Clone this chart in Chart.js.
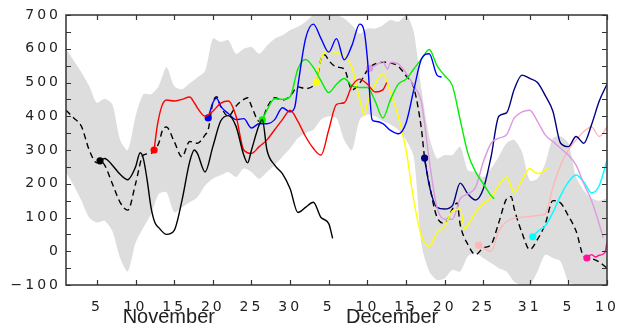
<!DOCTYPE html>
<html>
<head>
<meta charset="utf-8">
<script src="https://cdn.jsdelivr.net/npm/chart.js@4.4.1/dist/chart.umd.min.js"></script>
<style>
  html, body { margin: 0; padding: 0; background: #fff; }
  #wrap { width: 629px; height: 331px; }
</style>
</head>
<body>
<div id="wrap"><canvas id="chart" width="629" height="331"></canvas></div>
<script>
// x = days since 1 November (0 = Nov 1, 70 = Jan 10)
const tickDays = [4, 9, 14, 19, 24, 29, 34, 39, 44, 49, 54, 60, 65, 70];
const tickLabels = ['5', '10', '15', '20', '25', '30', '5', '10', '15', '20', '25', '31', '5', '10'];
const monthNames = ['November', 'December'];
const monthDays = [13.3, 42.2];
const yLabelVals = [-100, 0, 100, 200, 300, 400, 500, 600, 700];
const yMinorVals = [-100, -50, 0, 50, 100, 150, 200, 250, 300, 350, 400, 450, 500, 550, 600, 650, 700];

// grey envelope, one value per day
const bandDays = Array.from({ length: 71 }, (_, i) => i);
const bandHigh = [600, 565, 530, 490, 440, 452, 435, 330, 300, 400,
  465, 465, 490, 545, 490, 480, 498, 515, 535, 630,
  620, 625, 585, 600, 605, 585, 610, 630, 640, 655,
  665, 680, 700, 700, 700, 700, 690, 670, 645, 660,
  660, 670, 685, 680, 700, 650, 480, 340, 275, 285,
  285, 310, 240, 235, 220, 245, 280, 320, 330, 295,
  210, 215, 260, 335, 340, 320, 220, 180, 157, 150, 157];
const bandLow = [235, 195, 150, 100, 85, 90, 60, -20, -60, 25,
  70, 110, 170, 175, 115, 130, 145, 160, 195, 215,
  225, 235, 220, 245, 235, 215, 235, 255, 280, 305,
  335, 350, 360, 390, 400, 395, 330, 300, 390, 405,
  400, 385, 375, 360, 330, 280, 20, -60, -85, -80,
  -55, -60, -15, -5, -20, -35, -50, -60, -90, -100,
  -100, -60, -10, -20, -30, -90, -100, -100, -100, -100, -100];

// dashed black
const meanDays = [0, 1, 2, 3, 4, 4.4, 5, 6, 7, 8, 9, 10, 11, 12, 12.5, 13, 14, 15, 16, 17, 18, 18.4,
  19, 19.5, 20, 21, 22, 23, 23.5, 24, 25, 25.4, 26, 27, 28, 29, 30, 31, 32, 32.4, 33, 33.5, 34, 35, 36, 37, 38, 39, 39.3,
  40, 41, 42, 43, 44, 45, 46, 46.4, 47, 48, 49, 50, 50.6, 51, 52, 53, 54, 55, 56, 57, 57.6, 58, 59,
  60, 61, 62, 63, 64, 65, 66, 67, 68, 69, 70];
const meanVals = [418, 395, 370, 300, 262, 268, 255, 200, 145, 122, 200, 285, 290, 320, 360, 368, 325, 280, 325, 320, 345, 360,
  440, 458, 430, 400, 430, 450, 455, 430, 385, 390, 425, 455, 448, 460, 487, 482, 490, 502, 570, 582, 565, 546, 540, 478, 498, 537, 545,
  555, 560, 558, 548, 520, 485, 360, 276, 200, 101, 83, 125, 143, 80, 20, -10, 10, 20, 85, 155, 162, 125, 55,
  5, 35, 80, 150, 143, 105, 60, -15, -22, -32, -50];

const blackDays = [4.4, 5, 6, 7, 8, 9, 9.6, 10, 10.5, 11, 11.5, 12, 13, 14, 15, 16, 16.6, 17, 18, 19,
  20, 21, 22, 23, 23.5, 24, 25, 25.4, 26, 27, 28, 29, 30, 31, 32, 33, 34, 34.5];
const blackVals = [268, 275, 255, 228, 212, 250, 292, 275, 211, 130, 85, 70, 50, 62, 150, 265, 300, 290, 235, 310,
  385, 402, 370, 285, 262, 300, 375, 390, 300, 255, 230, 185, 115, 130, 145, 100, 82, 38];

const redDays = [11.4, 11.8, 12.4, 13, 14, 15, 16, 16.6, 17, 18, 19, 20, 21, 22, 23, 24, 25, 26, 27, 28,
  29, 30, 31, 32, 33, 34, 35, 36, 37, 38, 39, 40, 41, 41.5];
const redVals = [300, 370, 430, 448, 445, 450, 457, 440, 425, 400, 415, 438, 445, 400, 300, 290, 310, 330, 360, 390,
  418, 385, 340, 305, 285, 360, 435, 440, 490, 510, 495, 472, 478, 500];

const blueDays = [18.4, 19, 19.5, 20, 21, 22, 23, 24, 25, 26, 27, 28, 29, 29.6, 30, 31, 32, 33, 34, 35,
  36, 37, 38, 38.6, 39, 39.6, 40, 41, 42, 43, 44, 45, 46, 47, 48, 48.6];
const blueVals = [395, 440, 453, 430, 408, 390, 393, 365, 378, 378, 390, 425, 413, 427, 490, 630, 673, 630, 590, 630,
  567, 610, 673, 650, 570, 390, 385, 378, 358, 348, 380, 478, 570, 585, 522, 516];

const greenDays = [25.4, 26, 27, 28, 29, 30, 31, 32, 33, 34, 35, 36, 37, 38, 39, 40, 41, 42, 43, 44,
  45, 46, 47, 48, 49, 50, 51, 52, 53, 54, 55, 55.4];
const greenVals = [389, 418, 452, 450, 458, 540, 568, 545, 505, 470, 495, 512, 490, 485, 485, 445, 395, 450, 495, 510,
  540, 570, 598, 550, 520, 490, 390, 290, 235, 200, 165, 155];

const yellowDays = [32.4, 33, 34, 35, 36, 37, 38, 38.6, 39, 40, 41, 42, 43, 44, 45, 46, 47, 48, 49, 50,
  51, 51.6, 52, 53, 54, 55, 56, 57, 58, 59, 60, 61, 62, 62.4];
const yellowVals = [502, 570, 592, 590, 578, 545, 450, 405, 440, 495, 525, 470, 400, 300, 150, 45, 15, 55, 75, 120,
  125, 65, 78, 115, 140, 160, 195, 220, 175, 210, 245, 230, 240, 247];

const plumDays = [39.3, 40, 41, 41.6, 42, 43, 44, 45, 46, 47, 48, 49, 50, 51, 52, 53, 54, 55, 56, 57,
  58, 59, 60, 61, 62, 63, 64, 65, 66, 67, 68, 69, 69.5];
const plumVals = [542, 550, 562, 540, 560, 555, 528, 490, 440, 270, 130, 95, 95, 155, 170, 190, 265, 320, 335, 345,
  395, 413, 418, 385, 345, 325, 305, 285, 255, 200, 150, 80, 40];

const navyDays = [46.4, 47, 48, 49, 50, 51, 52, 53, 54, 55, 56, 57, 58, 59, 60, 61, 62, 63, 64, 65,
  66, 67, 68, 69, 70];
const navyVals = [276, 195, 130, 125, 135, 202, 170, 152, 185, 280, 400, 410, 480, 522, 512, 500, 462, 415, 320, 310,
  340, 320, 375, 445, 495];

const pinkDays = [53.4, 54, 55, 56, 57, 58, 59, 60, 61, 62, 63, 64, 65, 66, 67, 68, 69, 70];
const pinkVals = [18, 10, 0, 60, 88, 98, 101, 103, 106, 110, 190, 255, 300, 330, 355, 368, 340, 368];

const cyanDays = [60.4, 61, 62, 63, 64, 65, 66, 67, 68, 69, 70];
const cyanVals = [43, 58, 75, 115, 165, 205, 226, 205, 173, 195, 270];

const magentaDays = [67.4, 68, 68.5, 69, 69.7, 70];
const magentaVals = [-20, -10, -17, -12, -5, 25];

function pts(days, vals) {
  return days.map((d, i) => ({ x: d, y: vals[i] }));
}

function member(days, vals, color) {
  return {
    data: pts(days, vals),
    borderColor: color,
    backgroundColor: color,
    borderWidth: 1.4,
    pointRadius: c => (c.dataIndex === 0 ? 3.6 : 0),
    pointBorderWidth: 0,
    pointBackgroundColor: color,
    cubicInterpolationMode: 'monotone',
    fill: false,
    order: 1
  };
}

const tickFont = { family: 'DejaVu Sans', size: 14 };

const framePlugin = {
  id: 'frame',
  beforeDraw(chart) {
    chart.ctx.letterSpacing = '3px';
  },
  afterDraw(chart) {
    const ctx = chart.ctx;
    const a = chart.chartArea;
    const xs = chart.scales.x;
    const ys = chart.scales.y;
    ctx.save();
    ctx.letterSpacing = '0px';
    ctx.strokeStyle = '#333';
    ctx.lineWidth = 1.5;
    ctx.strokeRect(a.left, a.top, a.right - a.left, a.bottom - a.top);
    ctx.lineWidth = 1.2;
    ctx.beginPath();
    tickDays.forEach(d => {
      const px = Math.round(xs.getPixelForValue(d)) + 0.5;
      ctx.moveTo(px, a.bottom); ctx.lineTo(px, a.bottom - 5);
      ctx.moveTo(px, a.top); ctx.lineTo(px, a.top + 5);
    });
    yMinorVals.forEach(v => {
      const py = Math.round(ys.getPixelForValue(v)) + 0.5;
      ctx.moveTo(a.left, py); ctx.lineTo(a.left + 5, py);
      ctx.moveTo(a.right, py); ctx.lineTo(a.right - 5, py);
    });
    ctx.stroke();

    ctx.fillStyle = '#222';
    ctx.font = '20px "Liberation Sans", Arial, sans-serif';
    ctx.textAlign = 'center';
    ctx.textBaseline = 'alphabetic';
    monthNames.forEach((m, i) => {
      ctx.fillText(m, xs.getPixelForValue(monthDays[i]), 323);
    });
    ctx.restore();
  }
};

new Chart(document.getElementById('chart'), {
  type: 'line',
  data: {
    datasets: [
      {
        data: pts(bandDays, bandHigh),
        borderWidth: 0,
        borderColor: 'rgba(0,0,0,0)',
        backgroundColor: '#dddddd',
        pointRadius: 0,
        tension: 0.25,
        fill: '+1',
        order: 10
      },
      {
        data: pts(bandDays, bandLow),
        borderWidth: 0,
        borderColor: 'rgba(0,0,0,0)',
        pointRadius: 0,
        tension: 0.25,
        fill: false,
        order: 11
      },
      {
        data: pts(meanDays, meanVals),
        borderColor: '#000',
        borderWidth: 1.4,
        borderDash: [6, 4],
        pointRadius: 0,
        cubicInterpolationMode: 'monotone',
        fill: false,
        order: 2
      },
      member(blackDays, blackVals, '#000000'),
      member(redDays, redVals, '#ff0000'),
      member(blueDays, blueVals, '#0000ff'),
      member(greenDays, greenVals, '#00ee00'),
      member(yellowDays, yellowVals, '#ffff00'),
      member(plumDays, plumVals, '#dd99dd'),
      member(navyDays, navyVals, '#000080'),
      member(pinkDays, pinkVals, '#ffb6b6'),
      member(cyanDays, cyanVals, '#00ffff'),
      member(magentaDays, magentaVals, '#ff1493')
    ]
  },
  options: {
    responsive: false,
    animation: false,
    devicePixelRatio: 1,
    layout: { padding: { top: 15, right: 22, left: 0, bottom: 0 } },
    plugins: { legend: { display: false }, tooltip: { enabled: false } },
    scales: {
      x: {
        type: 'linear',
        min: 0,
        max: 70,
        afterBuildTicks: s => { s.ticks = tickDays.map(v => ({ value: v })); },
        afterFit: s => { s.height = 46; },
        grid: { display: false },
        border: { display: false },
        ticks: {
          autoSkip: false,
          maxRotation: 0,
          padding: 6,
          color: '#222',
          font: tickFont,
          callback: (v, i) => tickLabels[i]
        }
      },
      y: {
        type: 'linear',
        min: -100,
        max: 700,
        afterBuildTicks: s => { s.ticks = yLabelVals.map(v => ({ value: v })); },
        afterFit: s => { s.width = 66; },
        grid: { display: false },
        border: { display: false },
        ticks: {
          padding: -3,
          color: '#222',
          font: tickFont,
          callback: v => (v < 0 ? '\u2212' + Math.abs(v) : String(v))
        }
      }
    }
  },
  plugins: [framePlugin]
});
</script>
</body>
</html>
